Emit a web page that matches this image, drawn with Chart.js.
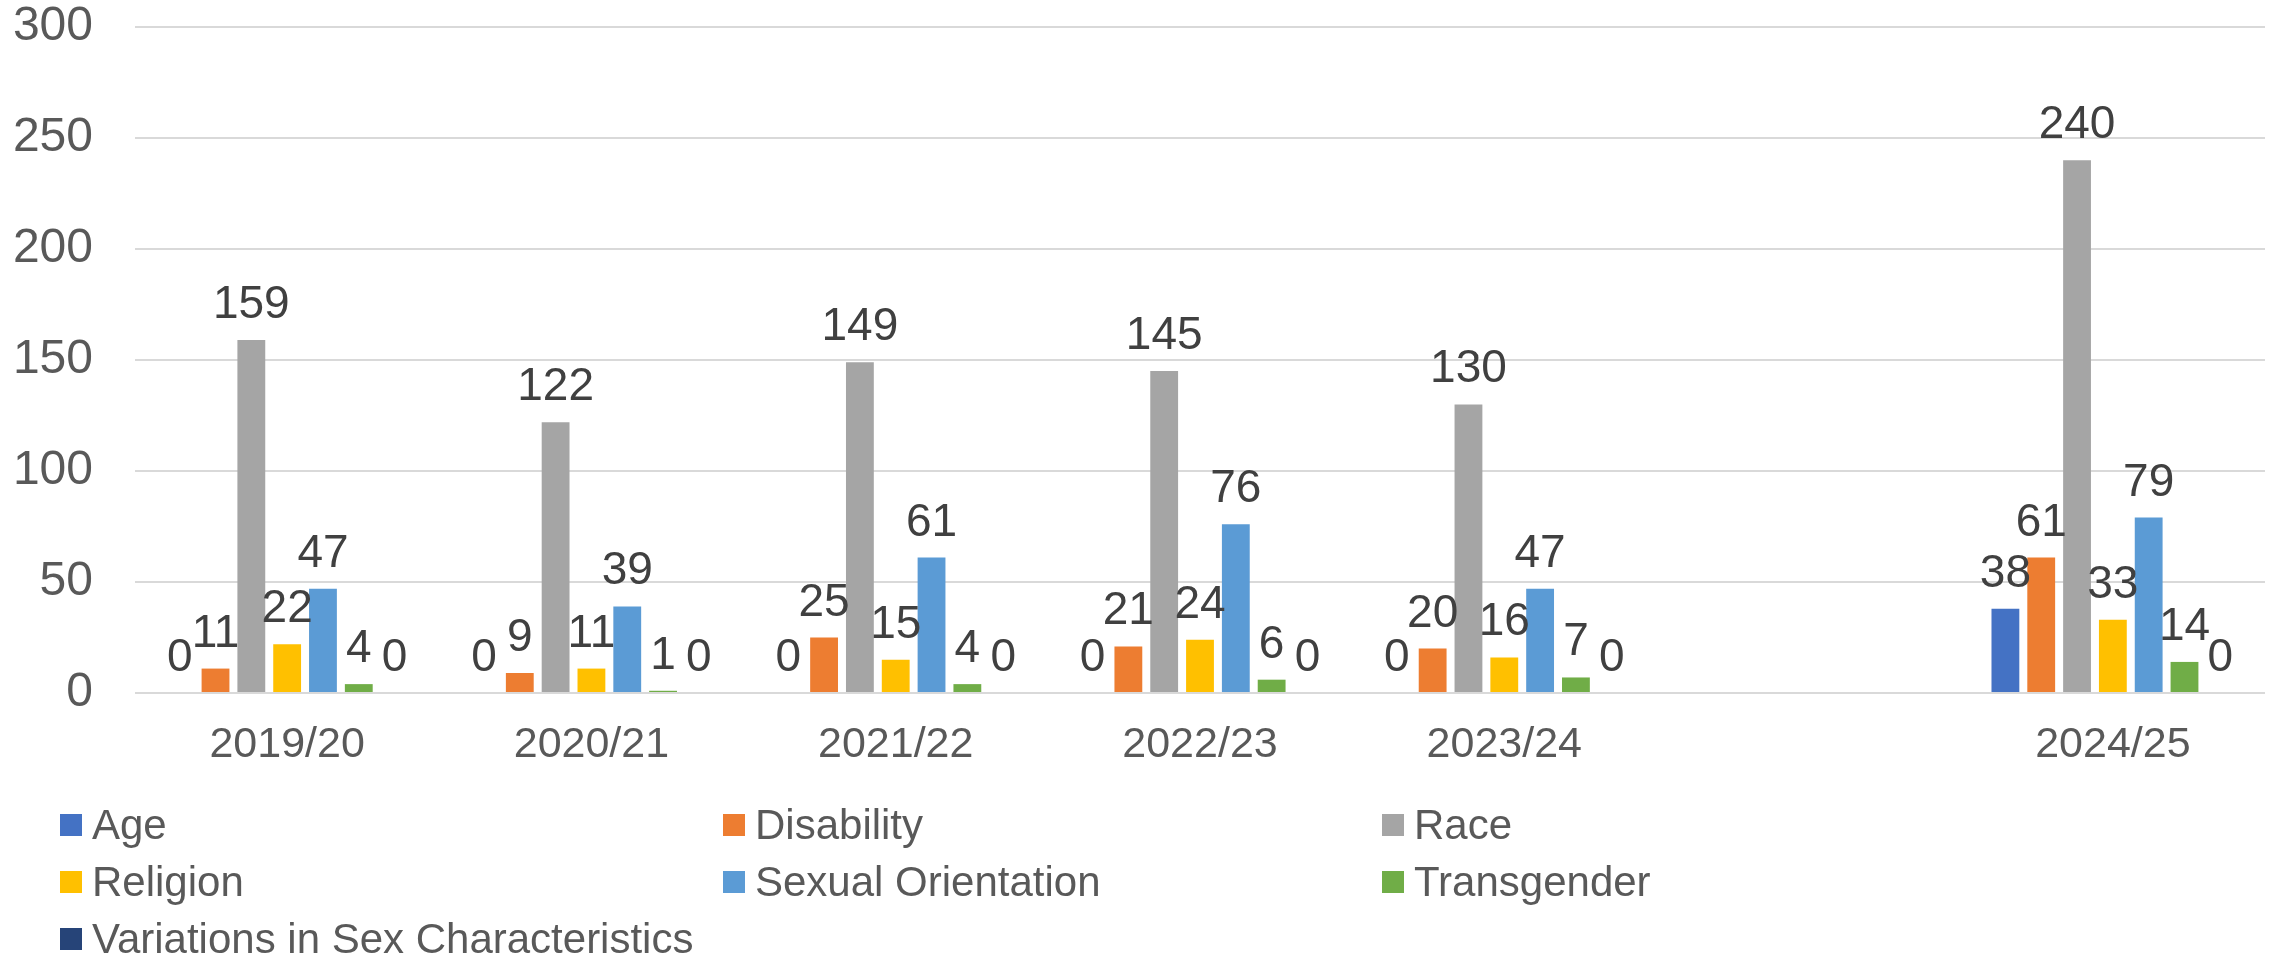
<!DOCTYPE html>
<html>
<head>
<meta charset="utf-8">
<script src="https://cdn.jsdelivr.net/npm/chart.js@4/dist/chart.umd.min.js"></script>
<style>
  html, body { margin: 0; padding: 0; background: #ffffff; }
  #wrap { width: 2280px; height: 957px; position: relative; }
</style>
</head>
<body>
<div id="wrap"><canvas id="c" width="2280" height="957"></canvas></div>
<script>
// ---- Data ----
const categories = ["2019/20", "2020/21", "2021/22", "2022/23", "2023/24", "", "2024/25"];
const age          = [0, 0, 0, 0, 0, null, 38];
const disability   = [11, 9, 25, 21, 20, null, 61];
const race         = [159, 122, 149, 145, 130, null, 240];
const religion     = [22, 11, 15, 24, 16, null, 33];
const sexualOrient = [47, 39, 61, 76, 47, null, 79];
const transgender  = [4, 1, 4, 6, 7, null, 14];
const variations   = [0, 0, 0, 0, 0, null, 0];
const seriesNames  = ["Age", "Disability", "Race", "Religion", "Sexual Orientation", "Transgender", "Variations in Sex Characteristics"];
const yTicks = { min: 0, max: 300, step: 50 };

const seriesData = [age, disability, race, religion, sexualOrient, transgender, variations];
const colors = ["#4472C4", "#ED7D31", "#A5A5A5", "#FFC000", "#5B9BD5", "#70AD47", "#264478"];
const FONT = '"Liberation Sans", Arial, Helvetica, sans-serif';

const datasets = seriesNames.map((name, i) => ({
  label: name,
  data: seriesData[i],
  backgroundColor: colors[i],
  borderWidth: 0,
  categoryPercentage: 0.824,
  barPercentage: 0.777
}));

const dataLabels = {
  id: 'dataLabels',
  afterDatasetsDraw(chart) {
    const ctx = chart.ctx;
    ctx.save();
    ctx.font = '46px ' + FONT;
    ctx.fillStyle = '#404040';
    ctx.textAlign = 'center';
    ctx.textBaseline = 'alphabetic';
    chart.data.datasets.forEach((ds, i) => {
      const meta = chart.getDatasetMeta(i);
      meta.data.forEach((el, j) => {
        const v = ds.data[j];
        if (v === null || v === undefined) return;
        ctx.fillText(String(v), el.x, el.y - 22);
      });
    });
    ctx.restore();
  }
};

const gridLegend = {
  id: 'gridLegend',
  afterDraw(chart) {
    const ctx = chart.ctx;
    const colX = [60, 723, 1382];
    const rowBase = [839, 896, 953];
    ctx.save();
    ctx.font = '42px ' + FONT;
    ctx.textBaseline = 'alphabetic';
    ctx.textAlign = 'left';
    chart.data.datasets.forEach((ds, i) => {
      const col = i % 3, row = Math.floor(i / 3);
      const x = colX[col], base = rowBase[row];
      ctx.fillStyle = ds.backgroundColor;
      ctx.fillRect(x, base - 25, 22, 22);
      ctx.fillStyle = '#595959';
      ctx.fillText(ds.label, x + 32, base);
    });
    ctx.restore();
  }
};

new Chart(document.getElementById('c'), {
  type: 'bar',
  data: { labels: categories, datasets },
  plugins: [dataLabels, gridLegend],
  options: {
    responsive: false,
    devicePixelRatio: 1,
    animation: false,
    layout: { padding: { left: 0, right: 15, top: 27, bottom: 0 } },
    plugins: { legend: { display: false }, tooltip: { enabled: false } },
    scales: {
      x: {
        grid: { display: false, drawTicks: false },
        border: { display: false },
        ticks: { color: '#595959', font: { family: FONT, size: 43 }, padding: 26, maxRotation: 0, autoSkip: false },
        afterFit(s) { s.height = 264; }
      },
      y: {
        min: yTicks.min, max: yTicks.max,
        grid: { color: '#d9d9d9', lineWidth: 2, drawTicks: false },
        border: { display: false },
        ticks: { stepSize: yTicks.step, color: '#595959', font: { family: FONT, size: 48, lineHeight: 1 }, padding: 42 },
        afterFit(s) { s.width = 135; s.paddingTop = 0; s.paddingBottom = 0; }
      }
    }
  }
});
</script>
</body>
</html>
